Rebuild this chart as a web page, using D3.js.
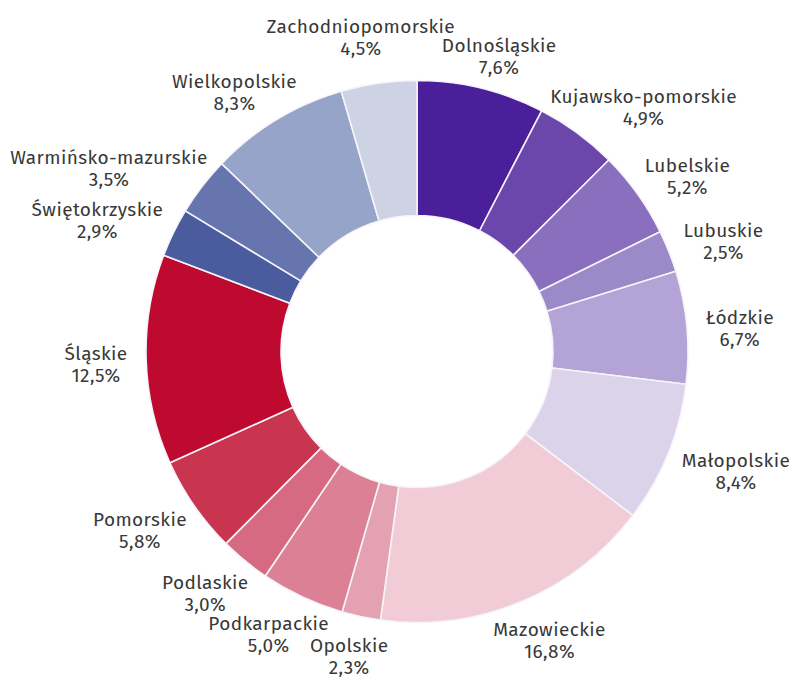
<!DOCTYPE html>
<html><head><meta charset="utf-8">
<script src="https://cdn.jsdelivr.net/npm/d3@7"></script>
<style>
html,body{margin:0;padding:0;background:#fff;}
svg{display:block;}
text{font-family:"Fira Sans","Open Sans","Noto Sans",sans-serif;fill:#383838;}
</style></head>
<body>
<svg id="chart" width="805" height="678"></svg>
<script>
const categories = ["Dolnośląskie","Kujawsko-pomorskie","Lubelskie","Lubuskie","Łódzkie","Małopolskie","Mazowieckie","Opolskie","Podkarpackie","Podlaskie","Pomorskie","Śląskie","Świętokrzyskie","Warmińsko-mazurskie","Wielkopolskie","Zachodniopomorskie"];
const values = [7.6,4.9,5.2,2.5,6.7,8.4,16.8,2.3,5.0,3.0,5.8,12.5,2.9,3.5,8.3,4.5];
const valueLabels = ["7,6%","4,9%","5,2%","2,5%","6,7%","8,4%","16,8%","2,3%","5,0%","3,0%","5,8%","12,5%","2,9%","3,5%","8,3%","4,5%"];
const colors = ["#4a1f99","#6b47ab","#8a6fbf","#9c89c8","#b4a3d6","#dad3ea","#f1ccd6","#e3a1b2","#dc8096","#d76a83","#c9354f","#bd0a2e","#4b5c9e","#6675ad","#97a4c9","#cdd3e5"];

const cx = 417, cy = 351.5, R = 271, r0 = 136;
const svg = d3.select("#chart");
const g = svg.append("g").attr("transform", `translate(${cx},${cy})`);

const data = categories.map((c,i)=>({name:c, value:values[i], label:valueLabels[i], color:colors[i]}));
const pie = d3.pie().sort(null).value(d=>d.value).startAngle(0).endAngle(2*Math.PI);
const arc = d3.arc().innerRadius(r0).outerRadius(R);
const arcs = pie(data);

g.selectAll("path.slice").data(arcs).join("path")
  .attr("class","slice")
  .attr("d", arc)
  .attr("fill", d=>d.data.color)
  .attr("stroke", "#f6f3fa")
  .attr("stroke-width", 1.6)
  .attr("stroke-linejoin","round");

// labels
const fs = 19, lh = 22, capH = 13.5;
const gap = 19;
const placed = [];
function boxes(c, w1, w2){
  const top = c[1] - (capH+lh)/2;
  return [
    {x0:c[0]-w1/2, x1:c[0]+w1/2, y0:top-1, y1:top+capH+4},
    {x0:c[0]-w2/2, x1:c[0]+w2/2, y0:top+lh-1, y1:top+lh+capH+4}
  ];
}
function overlap(a,b){return a.x0<b.x1 && b.x0<a.x1 && a.y0<b.y1 && b.y0<a.y1;}

const lg = g.append("g");
arcs.forEach((d,i)=>{
  const t = lg.append("text").attr("text-anchor","middle")
    .style("font-size",fs+"px").style("letter-spacing","0.4px");
  const t1 = t.append("tspan").text(d.data.name);
  const t2 = t.append("tspan").text(d.data.label);
  const w1 = t1.node().getComputedTextLength();
  const w2 = t2.node().getComputedTextLength();
  const w = Math.max(w1,w2), h = capH+lh;
  const th = (d.startAngle+d.endAngle)/2;
  const s = Math.sin(th), c = -Math.cos(th);
  let rr = R + gap;
  let ctr;
  for(let k=0;k<60;k++){
    const ax = s*rr, ay = c*rr;
    ctr = [ax + s*w/2, ay + c*h/2 + 4];
    const bx = boxes(ctr,w1,w2);
    const hit = placed.some(p=>p.some(b=>bx.some(a=>overlap(a,b))));
    if(!hit) break;
    rr += 2;
  }
  placed.push(boxes(ctr,w1,w2));
  const top = ctr[1] - h/2;
  t1.attr("x", ctr[0]).attr("y", top+capH);
  t2.attr("x", ctr[0]).attr("y", top+capH+lh);
});
</script>
</body></html>
